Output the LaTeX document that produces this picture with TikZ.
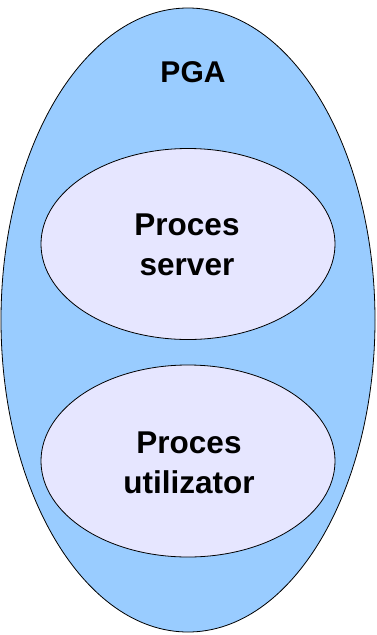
\documentclass[tikz,border=0pt]{standalone}
\usepackage{fontspec}
\setmainfont{Liberation Sans}
\definecolor{outerblue}{HTML}{99CCFF}
\definecolor{innerlav}{HTML}{E6E6FF}
\tikzset{
  shapeline/.style={draw=black, line width=0.8pt},
  lbl/.style={font=\fontsize{30}{39}\selectfont\bfseries, align=center, inner sep=0pt},
  biglbl/.style={font=\fontsize{31.5}{39.5}\selectfont\bfseries, align=center, inner sep=0pt}
}
\begin{document}
\begin{tikzpicture}[x=1pt,y=-1pt]
\useasboundingbox (0,0) rectangle (376,635);
\draw[shapeline, fill=outerblue] (188,320) ellipse [x radius=187, y radius=312];
\draw[shapeline, fill=innerlav] (188,244) ellipse [x radius=147, y radius=95.5];
\draw[shapeline, fill=innerlav] (188,461) ellipse [x radius=147, y radius=96];
\node[lbl] (pga) at (193,72) {PGA};
\node[biglbl] (srv) at (187,245) {Proces\\server};
\node[biglbl] (usr) at (189,463) {Proces\\utilizator};
\end{tikzpicture}
\end{document}
